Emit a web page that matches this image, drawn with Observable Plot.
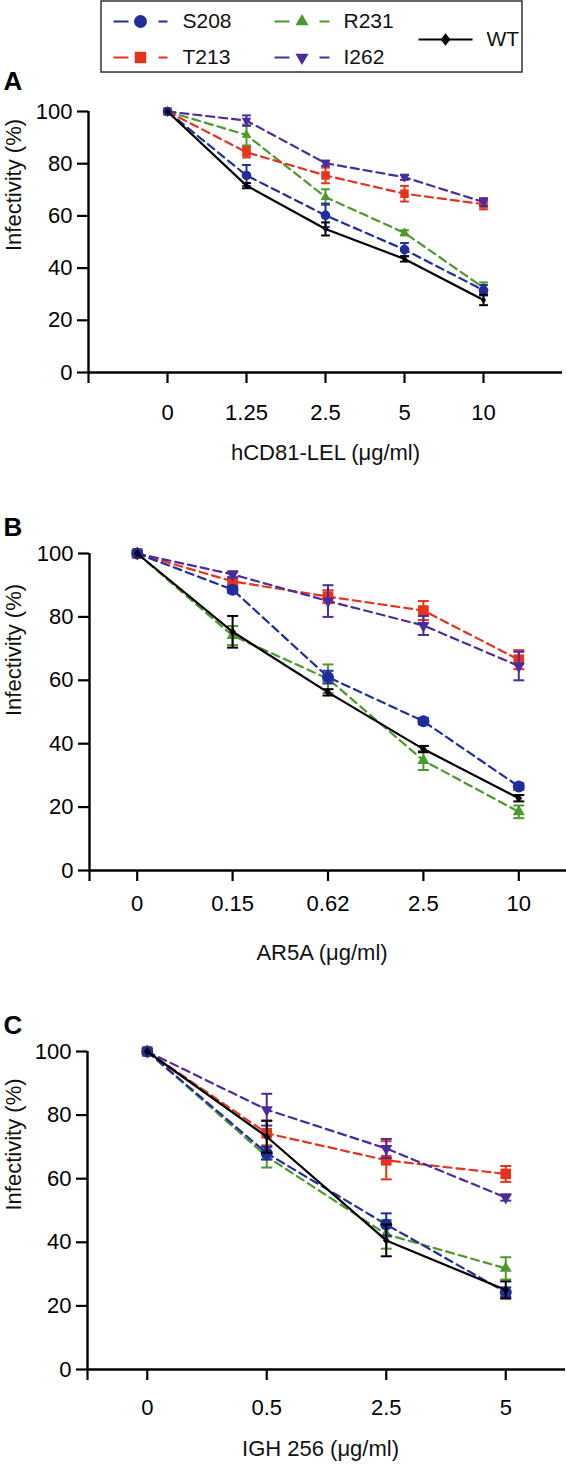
<!DOCTYPE html>
<html><head><meta charset="utf-8">
<script src="https://cdn.jsdelivr.net/npm/d3@7"></script>
<script src="https://cdn.jsdelivr.net/npm/@observablehq/plot@0.6"></script>
<style>
body{margin:0;background:#fff;}
#root{position:relative;width:566px;height:1470px;}
#root > svg{position:absolute;left:0;}
</style></head><body><div id="root"></div>
<script>
// ---------- data ----------
const series = ["S208", "T213", "R231", "I262", "WT"];
const colors = ["#1f2e9c", "#e5341b", "#4c9a2b", "#4d2b9b", "#000000"];
const yTicks = [0, 20, 40, 60, 80, 100];

// Panel A: hCD81-LEL
const dosesA = ["0", "1.25", "2.5", "5", "10"];
const S208_A = [100, 75.5, 60.2, 47.1, 31.5];
const T213_A = [100, 84.4, 75.5, 68.5, 64.5];
const R231_A = [100, 91.0, 67.2, 53.5, 32.5];
const I262_A = [100, 96.5, 80.2, 74.8, 65.3];
const WT_A   = [100, 71.6, 55.0, 43.5, 27.8];
const S208_A_err = [0, 4, 4.5, 2.5, 2];
const T213_A_err = [0, 2, 3, 3, 2];
const R231_A_err = [0, 4, 3, 1, 2];
const I262_A_err = [0, 2, 1, 1, 1.5];
const WT_A_err   = [0, 1, 2.5, 1, 2];

// Panel B: AR5A
const dosesB = ["0", "0.15", "0.62", "2.5", "10"];
const S208_B = [100, 88.6, 61.0, 47.1, 26.5];
const T213_B = [100, 91.2, 86.4, 82.0, 66.5];
const R231_B = [100, 74.1, 60.5, 34.7, 18.5];
const I262_B = [100, 93.4, 85.0, 77.3, 64.5];
const WT_B   = [100, 75.3, 56.2, 38.3, 22.8];
const S208_B_err = [0, 1, 2, 1, 1];
const T213_B_err = [0, 1, 2, 3, 3];
const R231_B_err = [0, 3, 4.5, 3, 2];
const I262_B_err = [0, 1, 5, 3, 4.5];
const WT_B_err   = [0, 5, 1, 1, 1];

// Panel C: IGH 256
const dosesC = ["0", "0.5", "2.5", "5"];
const S208_C = [100, 68.0, 45.6, 24.3];
const T213_C = [100, 74.3, 65.8, 61.5];
const R231_C = [100, 67.0, 42.5, 31.8];
const I262_C = [100, 81.7, 69.5, 54.1];
const WT_C   = [100, 73.2, 40.6, 25.0];
const S208_C_err = [0, 2, 3.5, 1.5];
const T213_C_err = [0, 4, 6, 2.5];
const R231_C_err = [0, 3.5, 4.5, 3.5];
const I262_C_err = [0, 5, 3, 1];
const WT_C_err   = [0, 5, 5, 2.7];

// ---------- symbols ----------
const sqrt3 = Math.sqrt(3);
const triDown = {draw(ctx, size) {
  const y = -Math.sqrt(size / (sqrt3 * 3));
  ctx.moveTo(0, -y * 2); ctx.lineTo(-sqrt3 * y, y); ctx.lineTo(sqrt3 * y, y); ctx.closePath();
}};
const diamondW = {draw(ctx, size) {
  const h = Math.sqrt(size) * 0.62, w = h * 0.8;
  ctx.moveTo(0, -h); ctx.lineTo(w, 0); ctx.lineTo(0, h); ctx.lineTo(-w, 0); ctx.closePath();
}};
const capSym = {draw(ctx, size) {
  const w = Math.sqrt(size) / 2;
  ctx.moveTo(-w, 0); ctx.lineTo(w, 0);
}};
const symbols = ["circle", "square", "triangle", triDown, diamondW];
const radii = [6, 6, 4.5, 4.5, 3.8];
const drawOrder = [2, 1, 3, 0, 4];
const FONT = "'Liberation Sans', Arial, Helvetica, sans-serif";
const TICK_FS = 22, LABEL_FS = 22;
const root = document.getElementById("root");

function place(svg, top) { svg.style.top = top + "px"; root.appendChild(svg); }

// ---------- legend ----------
const L = {box: {x1: 101, x2: 522, y1: 1, y2: 72}, lineX1: [113, 274, 418], lineX2: [167, 329, 472], labelX: [182, 343, 486], rowY: [21, 57]};
const legCol = [0, 0, 1, 1, 2];
const legRow = [0, 1, 0, 1, 0.5];
const legItems = series.map((s, k) => {
  const c = legCol[k];
  const y = L.rowY[0] + legRow[k] * (L.rowY[1] - L.rowY[0]);
  return {s, k, x1: L.lineX1[c], x2: L.lineX2[c], xm: (L.lineX1[c] + L.lineX2[c]) / 2, xl: L.labelX[c], y};
});
const legMarks = [
  Plot.rect([L.box], {x1: "x1", x2: "x2", y1: "y1", y2: "y2", fill: "none", stroke: "#333", strokeWidth: 1.5})
];
for (const it of legItems) {
  const k = it.k;
  legMarks.push(Plot.link([it], {x1: "x1", x2: "x2", y1: "y", y2: "y", stroke: colors[k], strokeWidth: 2,
    strokeDasharray: k === 4 ? undefined : "15,30,10"}));
  legMarks.push(Plot.dot([it], {x: "xm", y: "y", symbol: symbols[k], r: k === 4 ? 5.6 : radii[k] * 1.08, fill: colors[k], stroke: "none"}));
  legMarks.push(Plot.text([it], {x: "xl", y: "y", text: "s", textAnchor: "start", fontSize: 21, fill: "#111"}));
}
place(Plot.plot({
  width: 566, height: 80, margin: 0, axis: null,
  x: {type: "identity", axis: null}, y: {type: "identity", axis: null},
  style: `background:transparent;overflow:visible;font-family:${FONT};color:#000;`,
  marks: legMarks
}), 0);

// ---------- panels ----------
function panel(o) {
  const n = o.doses.length;
  const rows = [];
  series.forEach((s, k) => o.vals[k].forEach((v, i) => rows.push({s, k, i, v, e: o.errs[k][i]})));
  const xMax = n - 1 - o.xMin;
  const marks = [
    Plot.ruleY([0], {stroke: "black", strokeWidth: 2.4}),
    Plot.ruleX([o.xMin], {x: d => d, y1: 0, y2: 100, stroke: "black", strokeWidth: 2.4}),
    Plot.axisY({ticks: yTicks, tickSize: 11, tickPadding: 5, fontSize: TICK_FS, strokeWidth: 2.2, label: null}),
    Plot.axisX({ticks: [o.xMin, ...d3.range(n)], tickFormat: d => d < 0 ? "" : o.doses[d],
      tickSize: 11, tickPadding: o.tickPad, fontSize: TICK_FS, strokeWidth: 2.2, label: null})
  ];
  const rs = o.rScale;
  for (const k of drawOrder) {
    const d = rows.filter(r => r.k === k);
    const eb = d.filter(r => r.e > 0);
    marks.push(Plot.line(d, {x: "i", y: "v", stroke: colors[k], strokeWidth: 2.2,
      strokeDasharray: k === 4 ? undefined : "8,5"}));
    marks.push(Plot.ruleX(eb, {x: "i", y1: r => r.v - r.e, y2: r => r.v + r.e, stroke: colors[k], strokeWidth: 2}));
    marks.push(Plot.dot(eb, {x: "i", y: r => r.v + r.e, symbol: capSym, r: 6.2 * rs, stroke: colors[k], strokeWidth: 2, fill: "none"}));
    marks.push(Plot.dot(eb, {x: "i", y: r => r.v - r.e, symbol: capSym, r: 6.2 * rs, stroke: colors[k], strokeWidth: 2, fill: "none"}));
    marks.push(Plot.dot(d, {x: "i", y: "v", symbol: symbols[k], r: radii[k] * rs, fill: colors[k], stroke: "none"}));
  }
  marks.push(Plot.text([o.title], {frameAnchor: "bottom", text: d => d, dy: o.titleDy, dx: o.titleDx, fontSize: LABEL_FS, fill: "#111"}));
  marks.push(Plot.text(["Infectivity (%)"], {frameAnchor: "left", text: d => d, dx: 13 - o.mLeft, dy: o.ylabDy, rotate: -90, fontSize: LABEL_FS, fill: "#111"}));
  marks.push(Plot.text([o.letter], {frameAnchor: "top-left", text: d => d, dx: 3 - o.mLeft, dy: o.letterDy, textAnchor: "start", fontSize: 26, fontWeight: "bold", fill: "#000"}));
  const svg = Plot.plot({
    width: 566, height: o.mTop + o.plotH + o.mBottom,
    marginLeft: o.mLeft, marginRight: o.mRight, marginTop: o.mTop, marginBottom: o.mBottom,
    x: {type: "linear", domain: [o.xMin, xMax]},
    y: {domain: [0, 100]},
    style: `background:transparent;overflow:visible;font-family:${FONT};font-size:${TICK_FS}px;color:#000;`,
    marks
  });
  place(svg, o.top);
}

panel({doses: dosesA, vals: [S208_A, T213_A, R231_A, I262_A, WT_A], errs: [S208_A_err, T213_A_err, R231_A_err, I262_A_err, WT_A_err],
  xMin: -1, mLeft: 88, mRight: 4, top: 50, mTop: 61, plotH: 261, mBottom: 108, tickPad: 21,
  title: "hCD81-LEL (μg/ml)", titleDy: 87, titleDx: 0, ylabDy: 9, letter: "A", letterDy: -40, rScale: 0.8});
panel({doses: dosesB, vals: [S208_B, T213_B, R231_B, I262_B, WT_B], errs: [S208_B_err, T213_B_err, R231_B_err, I262_B_err, WT_B_err],
  xMin: -0.5, mLeft: 89, mRight: 0, top: 480, mTop: 73, plotH: 317, mBottom: 115, tickPad: 14,
  title: "AR5A (μg/ml)", titleDy: 89, titleDx: -6, ylabDy: 4, letter: "B", letterDy: -36, rScale: 1});
panel({doses: dosesC, vals: [S208_C, T213_C, R231_C, I262_C, WT_C], errs: [S208_C_err, T213_C_err, R231_C_err, I262_C_err, WT_C_err],
  xMin: -0.5, mLeft: 87, mRight: 1, top: 985, mTop: 66, plotH: 318, mBottom: 101, tickPad: 19,
  title: "IGH 256 (μg/ml)", titleDy: 86, titleDx: -6, ylabDy: 0, letter: "C", letterDy: -36, rScale: 1});
</script></body></html>
